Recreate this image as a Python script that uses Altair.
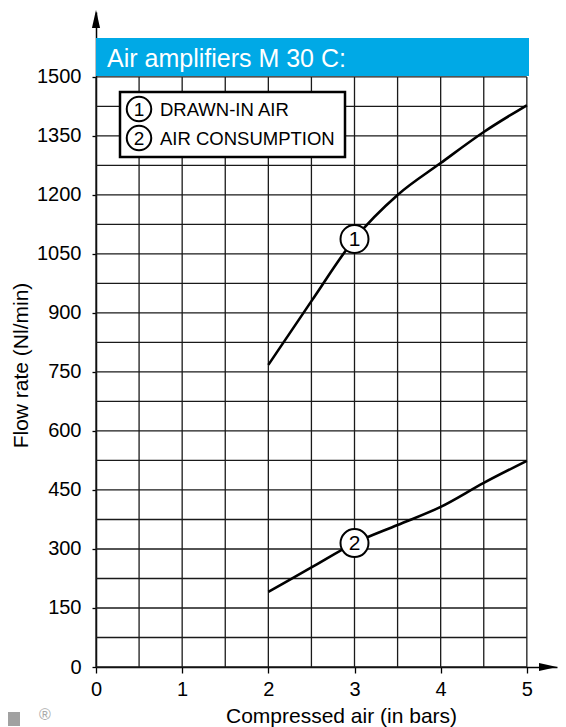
import altair as alt
import pandas as pd

# ---- data ----
pressure = [2, 2.5, 3, 3.5, 4, 4.5, 5]
drawn_in_air = [768, 930, 1088, 1200, 1281, 1360, 1428]
air_consumption = [191, 253, 315, 361, 407, 468, 524]

x_labels = [0, 1, 2, 3, 4, 5]
x_ticks = [i * 0.5 for i in range(11)]
y_labels = [i * 150 for i in range(11)]
y_grid = [i * 75 for i in range(21)]

series_names = ["DRAWN-IN AIR", "AIR CONSUMPTION"]
series_nums = ["1", "2"]
chart_title = "Air amplifiers M 30 C:"
x_title = "Compressed air (in bars)"
y_title = "Flow rate (Nl/min)"

FONT = "Liberation Sans, Arial, sans-serif"
BLUE = "#00A9E6"
GRID = "#1a1a1a"

xs = alt.Scale(domain=[0, 5.35], nice=False, zero=False)
ys = alt.Scale(domain=[0, 1665], nice=False, zero=False)

x_axis = alt.Axis(
    values=x_ticks, format="d",
    labelExpr="datum.value % 1 == 0 ? datum.label : ''",
    title=x_title, grid=False,
    domainColor="black", domainWidth=1.5,
    tickColor="black", tickSize=6, tickWidth=1.3,
    labelFont=FONT, labelFontSize=20, labelColor="black", labelPadding=6,
    labelOverlap=False, labelFlush=False,
    titleFont=FONT, titleFontSize=21, titleColor="black", titleFontWeight="normal",
    titleX=245, titleY=49, titleBaseline="middle", titleAlign="center",
)
y_axis = alt.Axis(
    values=y_labels, format="d", title=y_title, grid=False,
    domainColor="black", domainWidth=1.5,
    tickColor="black", tickSize=4, tickWidth=1.3,
    labelFont=FONT, labelFontSize=20, labelColor="black", labelPadding=11,
    labelOverlap=False, labelFlush=False,
    titleFont=FONT, titleFontSize=21, titleColor="black", titleFontWeight="normal",
    titleX=-75, titleY=353, titleBaseline="middle", titleAlign="center", titleAngle=-90,
)

X = lambda f: alt.X(f, scale=xs, axis=x_axis)
Y = lambda f: alt.Y(f, scale=ys, axis=y_axis)

# ---- grid ----
vgrid = pd.DataFrame({"x": x_ticks, "y": [0] * len(x_ticks), "y2": [1500] * len(x_ticks)})
hgrid = pd.DataFrame({"y": y_grid, "x": [0] * len(y_grid), "x2": [5] * len(y_grid)})

vlines = alt.Chart(vgrid).mark_rule(color=GRID, strokeWidth=1.3).encode(
    x=X("x:Q"), y=Y("y:Q"), y2="y2:Q",
)
hlines = alt.Chart(hgrid).mark_rule(color=GRID, strokeWidth=1.3).encode(
    x=X("x:Q"), x2="x2:Q", y=Y("y:Q"),
)

# ---- curves ----
curves_df = pd.DataFrame({
    "p": pressure * 2,
    "v": drawn_in_air + air_consumption,
    "s": [series_names[0]] * len(pressure) + [series_names[1]] * len(pressure),
})
curves = alt.Chart(curves_df).mark_line(color="black", strokeWidth=2.6, interpolate="monotone").encode(
    x=X("p:Q"), y=Y("v:Q"), detail="s:N",
)

lab_df = pd.DataFrame({
    "p": [pressure[2], pressure[2]],
    "v": [drawn_in_air[2], air_consumption[2]],
    "n": series_nums,
})
lab_circ = alt.Chart(lab_df).mark_circle(size=784, color="white", stroke="black", strokeWidth=2, opacity=1).encode(
    x=X("p:Q"), y=Y("v:Q")
)
lab_txt = alt.Chart(lab_df).mark_text(font=FONT, fontSize=21, color="black", baseline="middle", align="center", dy=1).encode(
    x=X("p:Q"), y=Y("v:Q"), text="n:N"
)

# ---- axis arrows ----
arrow_up = alt.Chart(pd.DataFrame({"a": [0]})).mark_point(
    shape="M0,-1L-0.45,1L0.45,1Z", size=324, filled=True, color="black", opacity=1
).encode(x=alt.value(0), y=alt.value(7))
arrow_right = alt.Chart(pd.DataFrame({"a": [0]})).mark_point(
    shape="M1,0L-1,-0.45L-1,0.45Z", size=324, filled=True, color="black", opacity=1
).encode(x=alt.value(452), y=alt.value(655))

# ---- title bar ----
title_bar = alt.Chart(pd.DataFrame({"a": [0]})).mark_rect(color=BLUE).encode(
    x=alt.value(0), x2=alt.value(433), y=alt.value(26), y2=alt.value(64)
)
title_txt = alt.Chart(pd.DataFrame({"t": [chart_title]})).mark_text(
    font=FONT, fontSize=25, color="white", align="left", baseline="alphabetic"
).encode(x=alt.value(11), y=alt.value(55), text="t:N")

# ---- legend box ----
legend_box = alt.Chart(pd.DataFrame({"a": [0]})).mark_rect(fill="white", stroke="black", strokeWidth=2.5).encode(
    x=alt.value(24), x2=alt.value(249), y=alt.value(80), y2=alt.value(145)
)
legend_layers = []
for i, (num, name) in enumerate(zip(series_nums, series_names)):
    cy = 97 + i * 29
    d = pd.DataFrame({"n": [num], "t": [name]})
    legend_layers.append(
        alt.Chart(d).mark_circle(size=600, color="white", stroke="black", strokeWidth=2, opacity=1).encode(
            x=alt.value(43), y=alt.value(cy))
    )
    legend_layers.append(
        alt.Chart(d).mark_text(font=FONT, fontSize=19, color="black", align="center", baseline="middle", dy=1).encode(
            x=alt.value(43), y=alt.value(cy), text="n:N")
    )
    legend_layers.append(
        alt.Chart(d).mark_text(font=FONT, fontSize=18.5, color="black", align="left", baseline="middle", dy=1).encode(
            x=alt.value(64), y=alt.value(cy), text="t:N")
    )

# ---- logo fragment ----
logo_sq = alt.Chart(pd.DataFrame({"a": [0]})).mark_rect(color="#8a8a8a", opacity=0.8).encode(
    x=alt.value(-88), x2=alt.value(-76), y=alt.value(700), y2=alt.value(714)
)
logo_r = alt.Chart(pd.DataFrame({"t": ["®"]})).mark_text(font=FONT, fontSize=16, color="#aaaaaa", align="center", baseline="middle").encode(
    x=alt.value(-51), y=alt.value(703), text="t:N"
)

chart = alt.layer(
    vlines, hlines, title_bar, title_txt, curves, lab_circ, lab_txt,
    legend_box, *legend_layers, arrow_up, arrow_right, logo_sq, logo_r
).properties(
    width=461, height=655,
    autosize=alt.AutoSizeParams(type="none"),
    padding={"left": 88, "top": 4, "right": 1, "bottom": 62},
).configure(background="white").configure_view(stroke=None)

chart.save("out.html", embed_options={"renderer": "svg", "actions": False})
